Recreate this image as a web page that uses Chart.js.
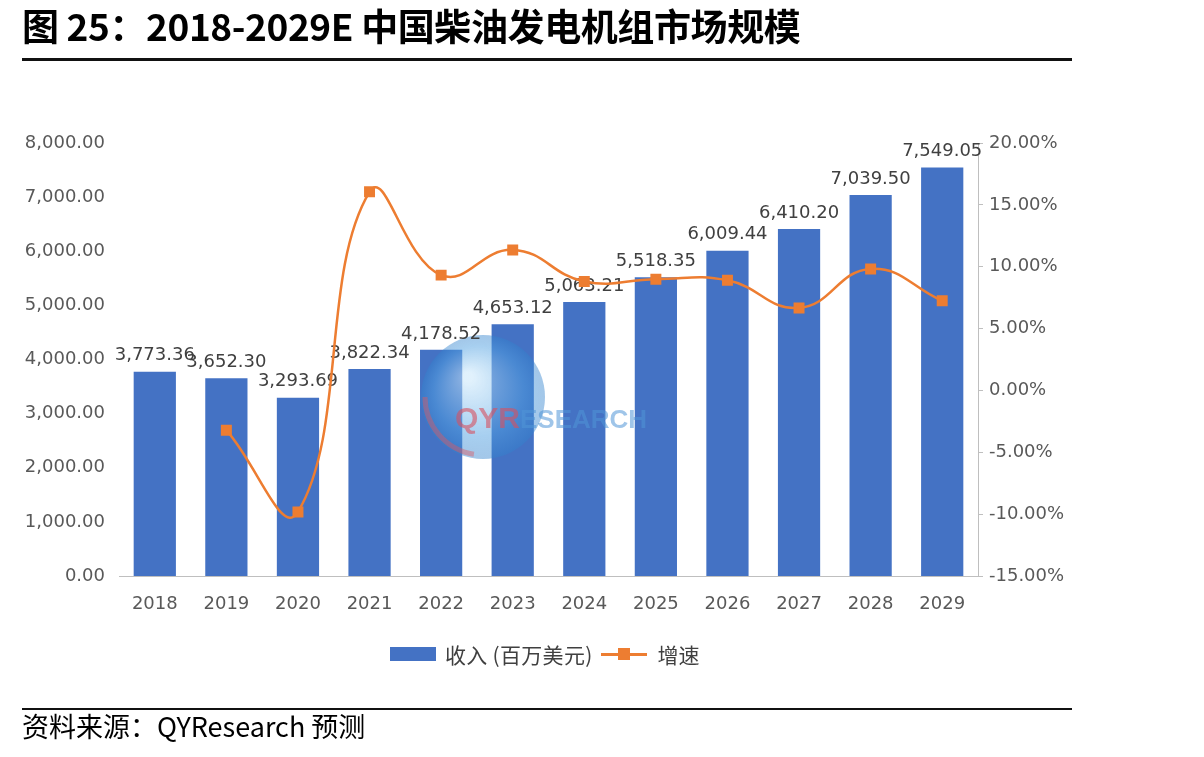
<!DOCTYPE html>
<html><head><meta charset="utf-8">
<script src="https://cdn.jsdelivr.net/npm/chart.js@4/dist/chart.umd.min.js"></script>
<style>
html,body{margin:0;padding:0;background:#fff;width:1204px;height:757px;overflow:hidden;}
#wrap{position:relative;width:1204px;height:757px;}
#c{position:absolute;left:0;top:0;}
.title{position:absolute;left:22px;top:-2px;font-family:"Noto Sans CJK SC";font-weight:bold;font-size:37px;color:#000;white-space:nowrap;letter-spacing:-0.4px;}
.hr{position:absolute;left:22px;width:1050px;background:#111;}
.src{position:absolute;left:22px;top:706px;font-family:"Noto Sans CJK SC";font-size:27px;color:#000;white-space:nowrap;}
.legend{position:absolute;left:390px;top:639px;display:flex;align-items:center;font-family:"Noto Sans CJK SC";font-size:21px;color:#404040;white-space:nowrap;}
.lg-bar{width:46px;height:14px;background:#4472C4;margin-right:9px;}
.lg-line{position:relative;width:46px;height:3px;background:#ED7D31;margin:0 11px 0 8px;}
.lg-line i{position:absolute;left:17px;top:-5px;width:12px;height:12px;background:#ED7D31;}
</style></head>
<body><div id="wrap">
<canvas id="c" width="1204" height="757"></canvas>
<div class="title">图 25：2018-2029E 中国柴油发电机组市场规模</div>
<div class="hr" style="top:58px;height:3px;"></div>
<div class="legend"><span class="lg-bar"></span><span style="letter-spacing:0.3px">收入 (百万美元)</span><span class="lg-line"><i></i></span><span>增速</span></div>
<div class="hr" style="top:708px;height:2px;"></div>
<div class="src">资料来源：QYResearch 预测</div>
</div>
<script>
const years = ['2018','2019','2020','2021','2022','2023','2024','2025','2026','2027','2028','2029'];
const revenue = [3773.36,3652.30,3293.69,3822.34,4178.52,4653.12,5063.21,5518.35,6009.44,6410.20,7039.50,7549.05];
const growth = [null,-3.21,-9.82,16.05,9.32,11.36,8.81,8.99,8.90,6.67,9.82,7.24];
const leftTicks = [0,1000,2000,3000,4000,5000,6000,7000,8000];
const rightTicks = [-15,-10,-5,0,5,10,15,20];

const tickFont = {family:'"DejaVu Sans", sans-serif', size:18};
const tickColor = '#595959';
const fmt2 = v => v.toLocaleString('en-US',{minimumFractionDigits:2,maximumFractionDigits:2});

const barLabels = {
  id:'barLabels',
  afterDatasetDraw(chart, args){
    if(args.index!==0) return;
    const ctx = chart.ctx;
    // watermark
    ctx.save();
    const cx=483, cy=397;
    const g = ctx.createRadialGradient(cx-15,cy-20,5,cx,cy,62);
    g.addColorStop(0,'rgba(200,230,250,0.55)');
    g.addColorStop(0.7,'rgba(80,160,225,0.5)');
    g.addColorStop(1,'rgba(50,130,205,0.45)');
    ctx.fillStyle=g;
    ctx.beginPath();ctx.arc(cx,cy,62,0,Math.PI*2);ctx.fill();
    ctx.strokeStyle='rgba(220,90,100,0.45)';ctx.lineWidth=5;
    ctx.beginPath();ctx.arc(cx,cy,58,Math.PI*0.55,Math.PI*1.0);ctx.stroke();
    ctx.font='bold 30px "Liberation Sans", Arial, sans-serif';
    ctx.textBaseline='middle';ctx.textAlign='left';
    ctx.fillStyle='rgba(215,80,95,0.6)';
    ctx.fillText('QYR',455,420);
    const w=ctx.measureText('QYR').width;
    ctx.font='bold 26px "Liberation Sans", Arial, sans-serif';
    ctx.fillStyle='rgba(80,150,215,0.55)';
    ctx.fillText('ESEARCH',455+w,421);
    ctx.restore();
    // labels
    ctx.save();
    ctx.font='18px "DejaVu Sans", sans-serif';
    ctx.fillStyle='#404040';
    ctx.textAlign='center';ctx.textBaseline='bottom';
    args.meta.data.forEach((el,i)=>{
      ctx.fillText(fmt2(revenue[i]), el.x, el.y-7);
    });
    ctx.restore();
  }
};

new Chart(document.getElementById('c'),{
  data:{
    labels: years,
    datasets:[
      {type:'bar',label:'收入 (百万美元)',data:revenue,backgroundColor:'#4472C4',yAxisID:'y',order:1,
       categoryPercentage:1.0,barPercentage:0.59},
      {type:'line',label:'增速',data:growth,yAxisID:'y1',order:0,borderColor:'#ED7D31',borderWidth:2.5,
       tension:0.45,cubicInterpolationMode:'default',pointStyle:'rect',pointRadius:6,pointBackgroundColor:'#ED7D31',
       pointBorderColor:'#ED7D31',spanGaps:false}
    ]
  },
  options:{
    responsive:false,animation:false,
    layout:{padding:{top:143,bottom:0,left:0,right:0}},
    plugins:{legend:{display:false},tooltip:{enabled:false}},
    scales:{
      x:{grid:{display:false,drawTicks:false},border:{display:true,color:'#BFBFBF',width:1},
         ticks:{font:tickFont,color:tickColor,padding:18},
         afterFit(s){s.height=181;}},
      y:{position:'left',min:0,max:8000,grid:{display:false,drawTicks:false},border:{display:false},
         afterBuildTicks(s){s.ticks=leftTicks.map(v=>({value:v}));},
         ticks:{font:tickFont,color:tickColor,padding:14,callback:v=>fmt2(v)},
         afterFit(s){s.width=119;}},
      y1:{position:'right',min:-15,max:20,
         grid:{display:true,drawOnChartArea:false,drawTicks:true,tickLength:5,color:'#BFBFBF'},
         border:{display:true,color:'#BFBFBF'},
         afterBuildTicks(s){s.ticks=rightTicks.map(v=>({value:v}));},
         ticks:{font:tickFont,color:tickColor,padding:6,callback:v=>v.toFixed(2)+'%'},
         afterFit(s){s.width=226;}}
    }
  },
  plugins:[barLabels]
});
</script>
</body></html>
